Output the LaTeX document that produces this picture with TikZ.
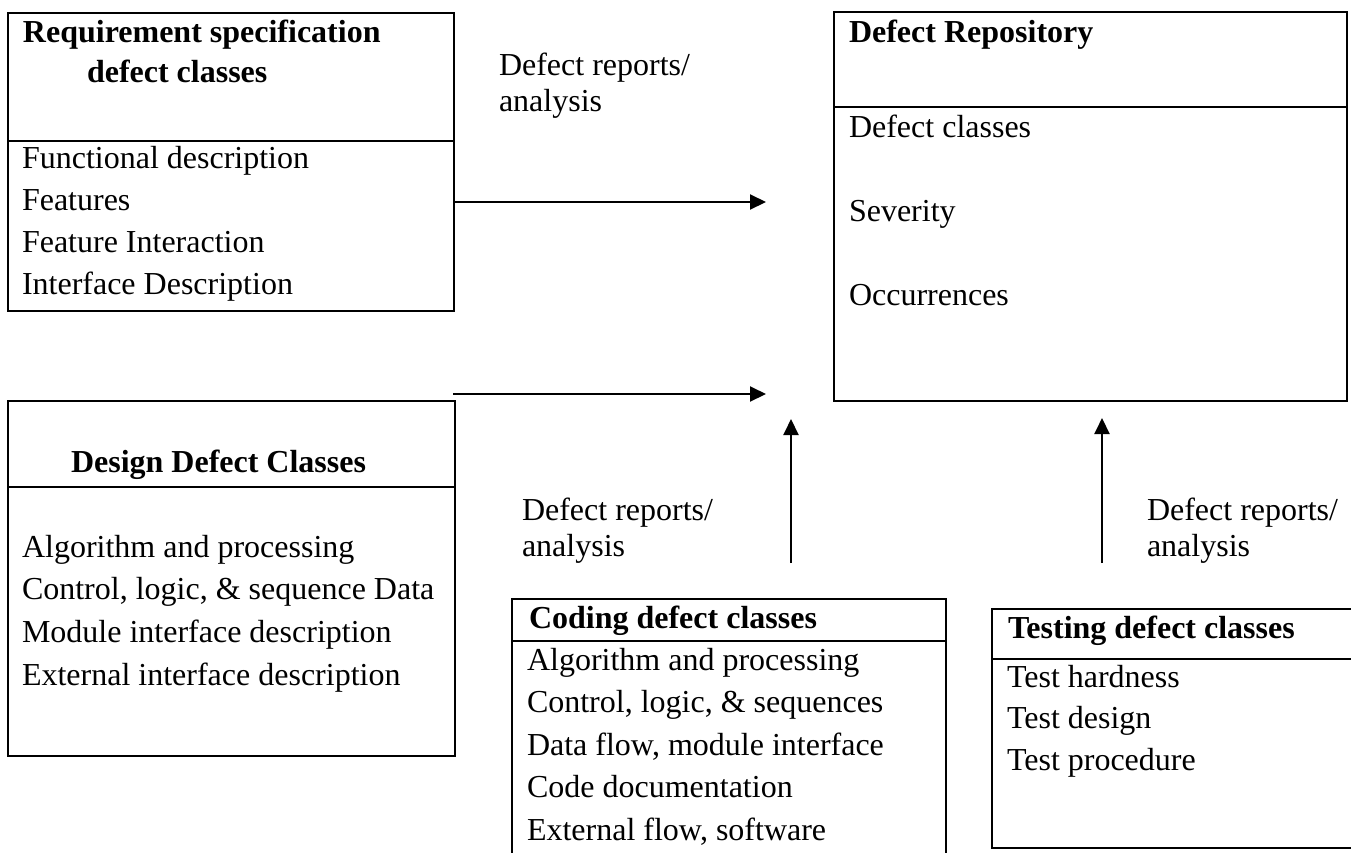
\documentclass[tikz,border=0pt]{standalone}
\usepackage{fontspec}
\setmainfont{Liberation Serif}
\usetikzlibrary{arrows.meta}

\tikzset{
  box/.style={draw, line width=2pt, rectangle, outer sep=0pt, inner sep=0pt, anchor=north west},
  txt/.style={anchor=base west, inner sep=0pt, outer sep=0pt, font=\fontsize{32}{38}\selectfont},
  hdr/.style={txt, font=\fontsize{32}{38}\selectfont\bfseries},
  flow/.style={-{Triangle[length=16pt,width=15pt]}, line width=2pt}
}

\begin{document}
\begin{tikzpicture}[x=1pt, y=-1pt]
\path[use as bounding box] (0,0) rectangle (1351,852);
\clip (0,0) rectangle (1351,852);

% Requirement specification defect classes
\node[box, minimum width=446pt, minimum height=128pt] (reqH) at (8,13) {};
\node[box, minimum width=446pt, minimum height=170pt] (reqB) at (8,141) {};
\node[hdr] (reqT1) at (23,42) {Requirement specification};
\node[hdr] (reqT2) at (87,82) {defect classes};
\foreach \t [count=\i] in {Functional description, Features, Feature Interaction, Interface Description}
  \node[txt] (req\i) at (22,{168+(\i-1)*42}) {\t};

% Defect repository
\node[box, minimum width=513pt, minimum height=95pt] (repH) at (834,12) {};
\node[box, minimum width=513pt, minimum height=294pt] (repB) at (834,107) {};
\node[hdr] (repT) at (849,42) {Defect Repository};
\node[txt] (rep1) at (849,137) {Defect classes};
\node[txt] (rep2) at (849,221) {Severity};
\node[txt] (rep3) at (849,305) {Occurrences};

% Design defect classes
\node[box, minimum width=447pt, minimum height=86pt] (desH) at (8,401) {};
\node[box, minimum width=447pt, minimum height=269pt] (desB) at (8,487) {};
\node[hdr] (desT) at (71,472) {Design Defect Classes};
\foreach \t [count=\i] in {Algorithm and processing, {Control, logic, \& sequence Data}, Module interface description, External interface description}
  \node[txt] (des\i) at (22,{557+(\i-1)*42.7}) {\t};

% Coding defect classes (runs past the lower edge)
\node[box, minimum width=434pt, minimum height=42pt] (codH) at (512,599) {};
\node[box, minimum width=434pt, minimum height=240pt] (codB) at (512,641) {};
\node[hdr] (codT) at (529,628) {Coding defect classes};
\foreach \t [count=\i] in {Algorithm and processing, {Control, logic, \& sequences}, {Data flow, module interface}, Code documentation, {External flow, software}}
  \node[txt] (cod\i) at (527,{670+(\i-1)*42.5}) {\t};

% Testing defect classes (runs past the right edge)
\node[box, minimum width=390pt, minimum height=50pt] (tstH) at (992,609) {};
\node[box, minimum width=390pt, minimum height=189pt] (tstB) at (992,659) {};
\node[hdr] (tstT) at (1008,638) {Testing defect classes};
\foreach \t [count=\i] in {Test hardness, Test design, Test procedure}
  \node[txt] (tst\i) at (1007,{687+(\i-1)*41.5}) {\t};

% Flow labels
\node[txt] (lab1a) at (499,75) {Defect reports/};
\node[txt] (lab1b) at (499,111) {analysis};
\node[txt] (lab2a) at (522,520) {Defect reports/};
\node[txt] (lab2b) at (522,556) {analysis};
\node[txt] (lab3a) at (1147,520) {Defect reports/};
\node[txt] (lab3b) at (1147,556) {analysis};

% Arrow end points
\coordinate (h1e) at (766,202);
\coordinate (h2s) at (453,394);
\coordinate (h2e) at (766,394);
\coordinate (v1s) at (791,563);
\coordinate (v1e) at (791,419);
\coordinate (v2s) at (1102,563);
\coordinate (v2e) at (1102,418);

% Report flows towards the repository
\draw[flow] (reqB.east |- h1e) -- (h1e);
\draw[flow] (h2s) -- (h2e);
\draw[flow] (v1s) -- (v1e);
\draw[flow] (v2s) -- (v2e);
\end{tikzpicture}
\end{document}
